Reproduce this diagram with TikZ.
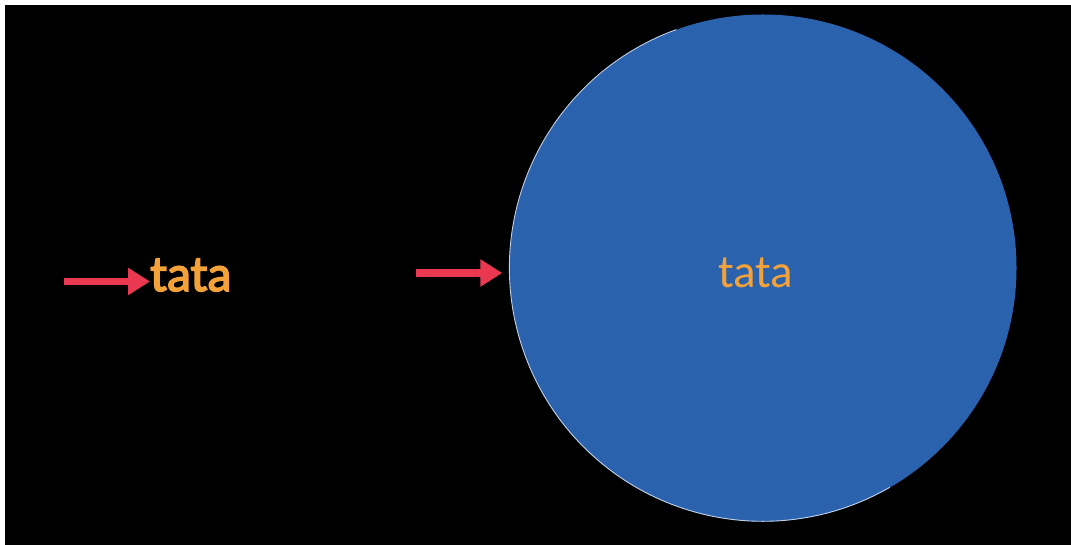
\documentclass[tikz,border=0pt]{standalone}
\usepackage{fontspec}
\setmainfont{Carlito}
\usetikzlibrary{arrows.meta}
\definecolor{bgblack}{RGB}{0,0,0}
\definecolor{ballblue}{RGB}{43,98,174}
\definecolor{tataorange}{RGB}{242,162,56}
\definecolor{arrowred}{RGB}{234,56,80}
\tikzset{
  redarrow/.style={draw=arrowred, line width=7.5pt, -{Triangle[length=22pt,width=26pt]}},
  word/.style={text=tataorange, inner sep=0pt, anchor=base},
  rim/.style={draw=white!70!ballblue, line width=0.9pt},
}
\begin{document}
\begin{tikzpicture}[x=1pt,y=1pt]
\useasboundingbox (0,0) rectangle (1071,545);
\fill[white] (0,0) rectangle (1071,545);
\fill[bgblack] (5,0) rectangle (1071,540);
\node[circle, fill=ballblue, minimum size=507pt, inner sep=0pt] (ball) at (763,277) {};
\draw[rim] (ball.110) arc[start angle=110, end angle=300, radius=253.5pt];
\node[word, font=\fontsize{51}{60}\selectfont\addfontfeature{FakeBold=3}, anchor=base west] (tleft) at (150,254) {tata};
\node[word, font=\fontsize{47}{56}\selectfont] (tright) at (755.5,257) {tata};
\coordinate (a1) at (64,263.5);
\coordinate (a2) at (416,272);
\draw[redarrow] (a1) -- (a1 -| tleft.west);
\draw[redarrow, shorten >=7pt] (a2) -- (a2 -| ball.west);
\end{tikzpicture}
\end{document}
